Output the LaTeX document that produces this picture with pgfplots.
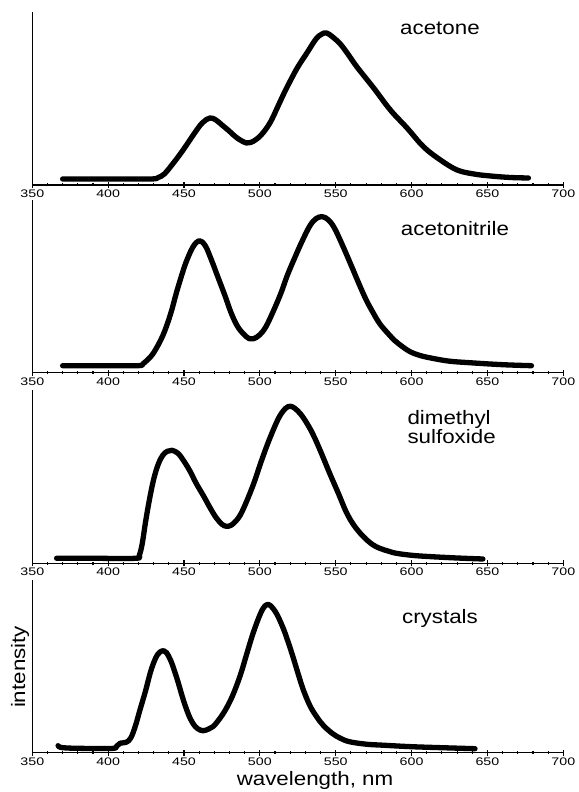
\documentclass[border=0pt]{standalone}
\usepackage{pgfplots}
\pgfplotsset{compat=1.18}
\usepackage{fontspec}
\setmainfont{Liberation Sans}
\newcommand\lbl[1]{\scalebox{1.15}[1]{\fontsize{19.5}{19}\selectfont #1}}
\pgfplotsset{panel/.style={
  scale only axis, width=531bp, height=173bp,
  xmin=350, xmax=700, ymin=0, ymax=173,
  axis x line=bottom, axis y line=left,
  axis line style={-, line width=1.4bp},
  xtick={350,400,...,700},
  xticklabel={\scalebox{1.3}[1]{\fontsize{11}{11}\selectfont\pgfmathprintnumber[assume math mode=true]{\tick}}},
  minor x tick num=4,
  ytick=\empty,
  xtick align=center,
  major tick length=6bp, minor tick length=3bp,
  every tick/.style={black, line width=1.1bp},
  xticklabel style={inner sep=0pt, yshift=-1.5bp},
  clip=false,
},
curve/.style={black, line width=5.3bp, line join=round, line cap=round, smooth, tension=0.6}}
\begin{document}
\begin{tikzpicture}[x=1bp,y=1bp]
\path[use as bounding box] (0,0) rectangle (579,792);
% acetone
\begin{axis}[panel, at={(32.3bp,607bp)}, anchor=origin]
\addplot[curve] coordinates {(370,6) (400,6) (428,6) (433,7.5) (437,11) (442,20) (448,32) (453,43) (457,52) (462,62) (467,67) (471,65) (475,60) (479,55) (485,47) (491,42) (494,42.5) (498,46) (502,52) (507,63) (512,79) (516,92) (520,104) (525,118) (531,132) (537,146) (541,151) (544,152) (548,148) (553,141) (558,131) (564,118) (575,97) (586,75) (597,57) (608,38) (619,25) (630,15) (641,11) (652,9) (665,7.5) (677,7)};
\node at (axis cs:618.7,157) {\lbl{acetone}};
\end{axis}
% acetonitrile
\begin{axis}[panel, at={(32.3bp,419.3bp)}, anchor=origin]
\addplot[curve] coordinates {(370,7) (400,7) (420,7) (423,9) (426,13) (430,20) (436,37) (441,58) (445,80) (449,100) (452,113) (456,126) (460,132) (464,127) (468,113) (472,97) (477,77) (481,60) (485,47) (489,39) (493,34) (496,34) (500,38) (504,46) (509,62) (514,80) (518,97) (523,115) (528,132) (533,147) (537,154) (541,156) (545,153) (549,145) (554,129) (560,108) (565,90) (570,73) (575,59) (579,49) (584,40) (589,32) (594,26) (599,21) (606,17) (615,14) (625,11.5) (638,10) (660,8) (679,7)};
\node at (axis cs:628.6,143.7) {\lbl{acetonitrile}};
\end{axis}
% dimethyl sulfoxide
\begin{axis}[panel, at={(32.3bp,228.7bp)}, anchor=origin]
\addplot[curve] coordinates {(366,5) (390,5) (418,5) (420.5,8) (422.5,20) (424.5,40) (427,62) (430,84) (433,99) (436,108) (439,112) (442,113) (446,110) (450,102) (454,92) (458,80) (463,67) (467,56) (471,46) (475,39) (478,37) (481,38) (484,42) (487,48) (491,61) (496,80) (500,98) (504.5,117) (509,134) (513,147) (517,155) (520,157) (523,155) (527,149) (531,140) (535,129) (540,112) (546,90) (552,69) (557,51) (562,38) (568,27) (574,19) (579,15) (585,12) (590,10) (600,8) (612,6.7) (630,5.3) (647,4.3)};
\node[anchor=west, align=left, font=\fontsize{19.5}{19}\selectfont] at (axis cs:595,135.8) {\lbl{dimethyl}\\\lbl{sulfoxide}};
\end{axis}
% crystals
\begin{axis}[panel, at={(32.3bp,39.3bp)}, anchor=origin]
\addplot[curve] coordinates {(367,7) (370,5) (384,4.3) (403,4.3) (405.5,6.5) (408,9.5) (412,10.5) (415,15) (418,27) (421,43) (424.5,61) (427.6,79) (430,90) (432.5,98) (435,101.5) (436.5,102) (438.5,100) (441,93) (443,85) (446,71) (449.5,53) (453,38) (456,29) (459,24) (462.5,22) (466,23.5) (469,26) (472,31) (477,42) (482,57) (487,77) (491,97) (495,117) (499,134) (502,144) (504.5,148) (507,147) (511,139) (515.5,124) (519,109) (522,95) (525,80) (528.6,63) (533,47) (537.4,36) (542,27) (548,19) (553,14.5) (559,11) (570,8.5) (581,7.5) (600,6) (620,5) (641.8,4)};
\node at (axis cs:618.7,134.7) {\lbl{crystals}};
\end{axis}
\node[anchor=base] at (315,6) {\lbl{wavelength, nm}};
\node[anchor=base, rotate=90] at (25,125) {\lbl{intensity}};
\end{tikzpicture}
\end{document}
